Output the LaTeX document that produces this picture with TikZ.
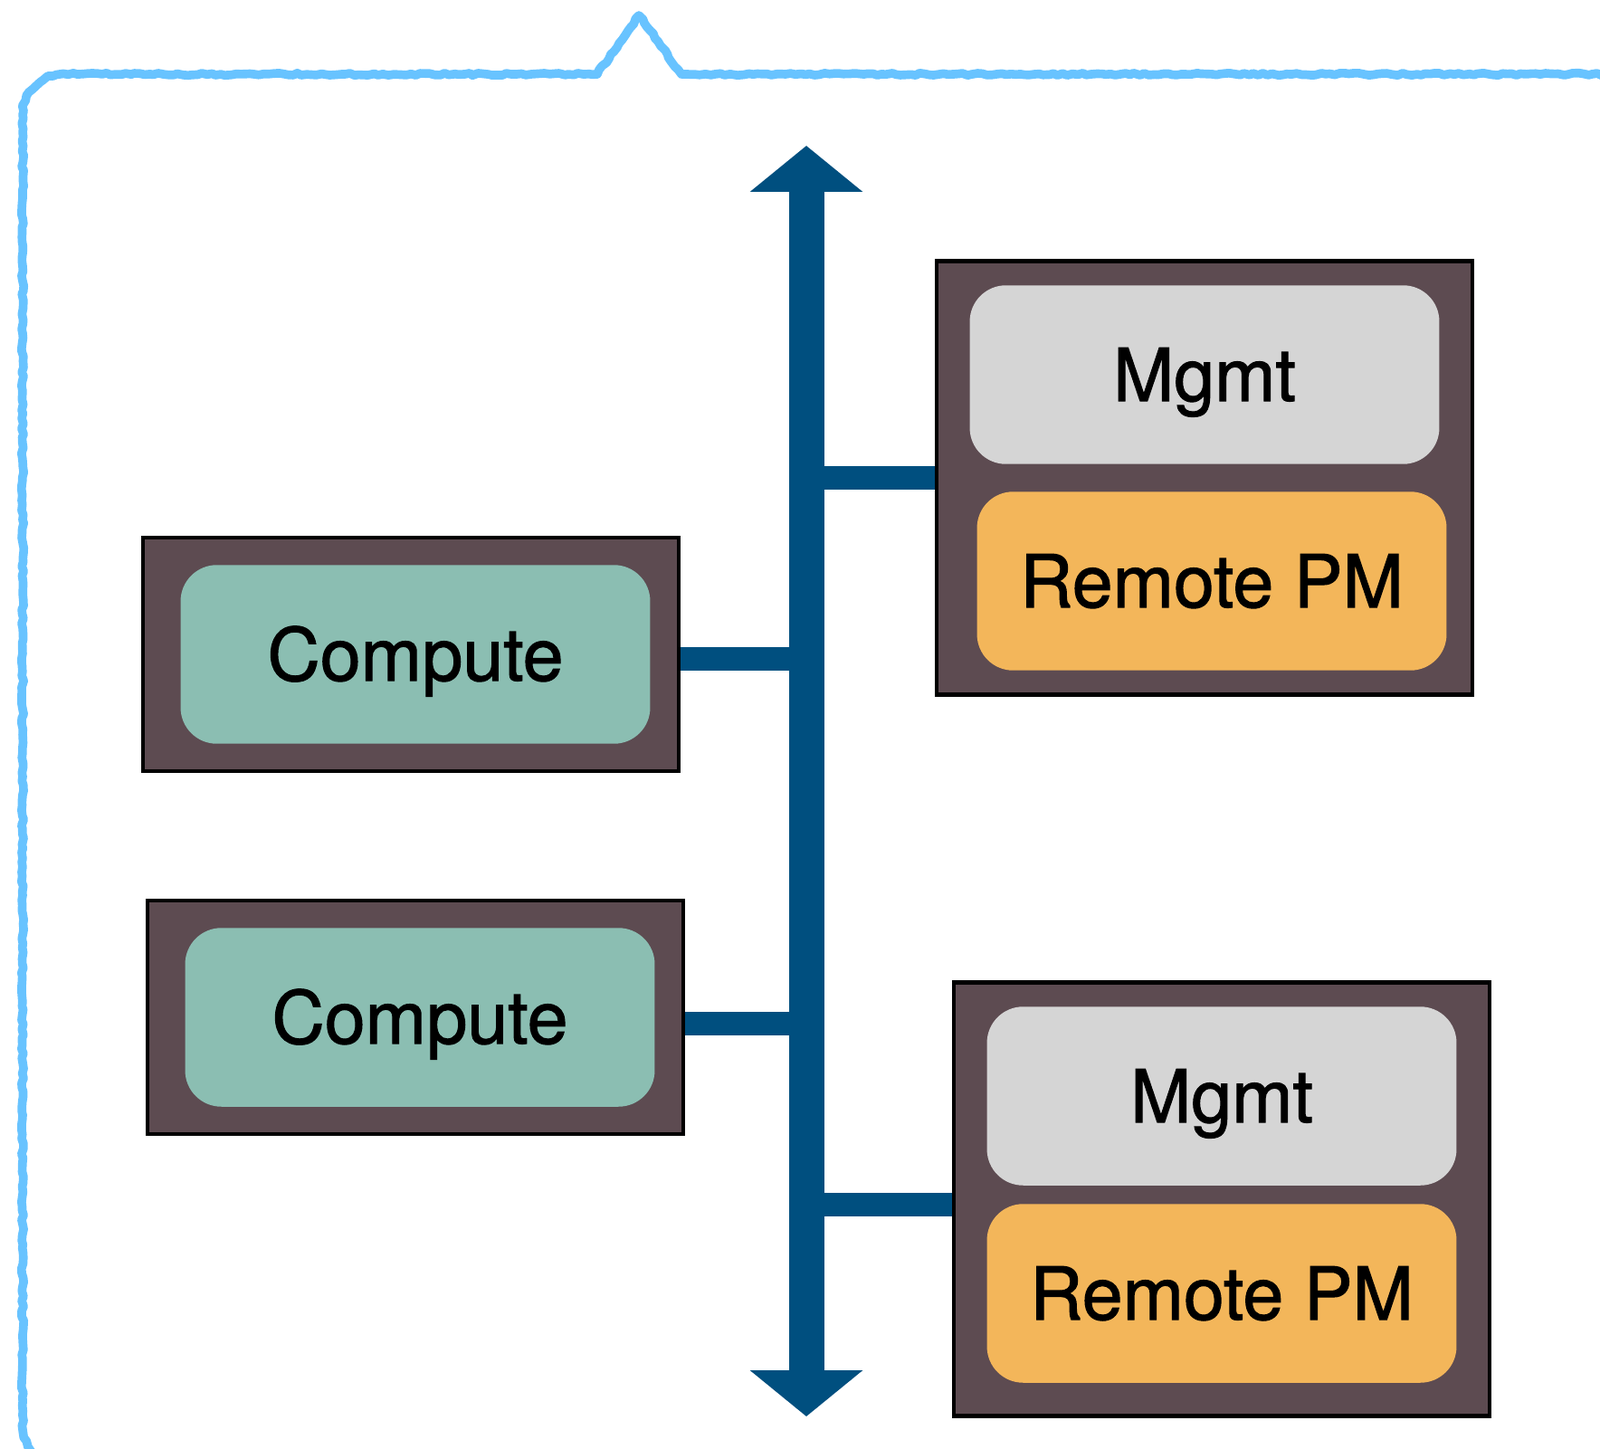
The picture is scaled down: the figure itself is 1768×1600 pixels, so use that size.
\documentclass[tikz,border=0pt]{standalone}
\usepackage{fontspec}
\setmainfont{TeX Gyre Heros}
\newfontfamily\rolefont[FakeBold=1.3]{TeX Gyre Heros}
\usepackage{xcolor}
\usepackage{tikz}
\usetikzlibrary{positioning,arrows.meta,decorations.pathmorphing}
\definecolor{sky}{HTML}{68C3FF}
\definecolor{bus}{HTML}{004F7F}
\definecolor{host}{HTML}{5D4B51}
\definecolor{compute}{HTML}{8BBEB2}
\definecolor{mgmt}{HTML}{D5D5D5}
\definecolor{rpm}{HTML}{F3B65A}

\tikzset{
  hostbox/.style={fill=host, draw=black, line width=2.5pt, minimum width=11.84cm},
  role/.style={rounded corners=0.8cm, minimum width=10.38cm, minimum height=3.95cm,
               text height=33pt, text depth=0pt,
               font=\rolefont\fontsize{46}{50}\selectfont, text=black},
  link/.style={draw=bus, line width=0.52cm},
}

\begin{document}
\begin{tikzpicture}[x=0.02cm, y=-0.02cm]
\useasboundingbox (0,0) rectangle (1768,1600);

% speech-bubble outline
\draw[sky, line width=5.5pt, line join=round,
      decorate, decoration={random steps, segment length=3pt, amplitude=0.7pt}]
  (70,1620) arc[start angle=270, end angle=180, radius=0.9cm] -- (25,127)
  arc[start angle=180, end angle=90, radius=0.9cm] -- (660,82) -- (706,17)
  -- (753,82) -- (1759,82) arc[start angle=90, end angle=0, radius=0.9cm]
  -- (1804,1700);

% hosts
\node[hostbox, minimum height=5.16cm] (host1) at (454,723) {};
\node[role, fill=compute] (comp1) at (459,723) {Compute};

\node[hostbox, minimum height=5.16cm] (host2) at (459,1124) {};
\node[role, fill=compute] (comp2) at (464,1124) {Compute};

\node[hostbox, minimum height=9.58cm] (host3) at (1331,528) {};
\node[role, fill=mgmt] (mgmt1) at (1331,414) {Mgmt};
\node[role, fill=rpm] (rpm1) at (1339,642) {Remote PM};

\node[hostbox, minimum height=9.58cm] (host4) at (1350,1325) {};
\node[role, fill=mgmt] (mgmt2) at (1350,1211) {Mgmt};
\node[role, fill=rpm] (rpm2) at (1350,1429) {Remote PM};

% network bus
\coordinate (bustop) at (891,161);
\coordinate (busbot) at (891,1565);

\draw[link] ([yshift=-0.1cm]host1.east) -- ([yshift=-0.1cm]host1.east -| bustop);
\draw[link] ([yshift=-0.14cm]host2.east) -- ([yshift=-0.14cm]host2.east -| bustop);
\draw[link] (host3.west) -- (host3.west -| bustop);
\draw[link] ([yshift=-0.12cm]host4.west) -- ([yshift=-0.12cm]host4.west -| bustop);

\draw[bus, line width=0.78cm,
      {Triangle[width=2.44cm,length=1.02cm]}-{Triangle[width=2.44cm,length=1.02cm]}]
  (bustop) -- (busbot);
\end{tikzpicture}
\end{document}
